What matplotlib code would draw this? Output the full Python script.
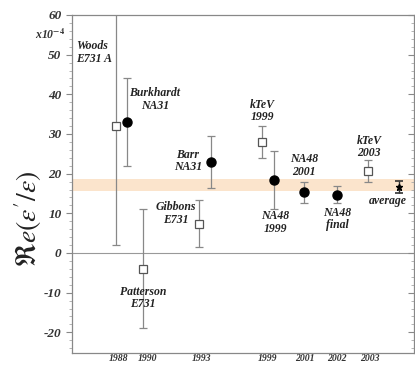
import matplotlib
matplotlib.use("Agg")
import matplotlib.pyplot as plt
from matplotlib.ticker import MultipleLocator

plt.rcParams['mathtext.fontset'] = 'stix'

# ---- data ----
labels = ["Woods\nE731 A", "Burkhardt\nNA31", "Patterson\nE731", "Gibbons\nE731",
          "Barr\nNA31", "kTeV\n1999", "NA48\n1999", "NA48\n2001", "NA48\nfinal",
          "kTeV\n2003", "average"]
xpos = [4.4, 5.5, 7.1, 12.7, 13.9, 19.0, 20.2, 23.2, 26.5, 29.6, 32.7]
values = [32.0, 33.0, -4.0, 7.4, 23.0, 28.0, 18.5, 15.3, 14.7, 20.7, 16.7]
errors = [30.0, 11.0, 15.0, 5.9, 6.5, 4.1, 7.3, 2.6, 2.2, 2.8, 1.5]
kinds = ["open", "filled", "open", "open", "filled", "open", "filled",
         "filled", "filled", "open", "avg"]
label_pos = [(0.4, 50.5), (8.3, 38.7), (7.1, -11.3), (10.4, 10.0), (11.6, 23.2),
             (19.0, 35.8), (20.3, 7.7), (23.2, 22.0), (26.5, 8.5), (29.7, 26.7), (31.6, 13.2)]
label_align = ["left", "center", "center", "center", "center", "center", "center",
               "center", "center", "center", "center"]
year_pos = [4.7, 7.6, 13.0, 19.6, 23.3, 26.5, 29.8]
year_labels = ["1988", "1990", "1993", "1999", "2001", "2002", "2003"]
band_low, band_high = 15.5, 18.7

font = dict(family="Liberation Serif", weight="bold", style="italic")

fig = plt.figure(figsize=(4.15, 3.65), dpi=100)
ax = fig.add_axes([0.1735, 0.033, 0.824, 0.926])
ax.set_xlim(0, 34.2)
ax.set_ylim(-25.2, 60)

ax.axhspan(band_low, band_high, color="#fbe4cc", zorder=0, lw=0)
ax.axhline(0, color="#999999", lw=0.8, zorder=1)

for x, v, e, k in zip(xpos, values, errors, kinds):
    if k == "open":
        ax.errorbar(x, v, yerr=e, fmt="s", ms=6, mfc="white", mec="#555555", mew=0.9,
                    ecolor="#888888", elinewidth=0.9, capsize=3, capthick=0.9, zorder=3)
    elif k == "filled":
        ax.errorbar(x, v, yerr=e, fmt="o", ms=6.5, mfc="black", mec="black",
                    ecolor="#888888", elinewidth=0.9, capsize=3, capthick=0.9, zorder=3)
    else:
        ax.errorbar(x, v, yerr=e, fmt="*", ms=5, mfc="black", mec="black",
                    ecolor="#333333", elinewidth=1.0, capsize=3, capthick=1.2, zorder=3)

for lab, (lx, ly), ha in zip(labels, label_pos, label_align):
    ax.text(lx, ly, lab, ha=ha, va="center", fontsize=8.5, color="#222222",
            linespacing=1.05, **font)

for s in ax.spines.values():
    s.set_color("#888888")
    s.set_linewidth(0.9)

ax.yaxis.set_major_locator(MultipleLocator(10))
ax.yaxis.set_minor_locator(MultipleLocator(2))
ax.tick_params(axis="y", which="major", direction="out", length=4, color="#888888",
               right=True, labelsize=9)
ax.tick_params(axis="y", which="minor", direction="out", length=2, color="#aaaaaa", right=True)
ax.set_yticks(range(-20, 61, 10))
ax.set_yticklabels([str(t) for t in range(-20, 61, 10)], **font, fontsize=9.5, color="#333333")
for t in ax.yaxis.get_ticklines(minor=False)[1::2]:
    t.set_marker(matplotlib.lines.TICKLEFT)
for t in ax.yaxis.get_ticklines(minor=True)[1::2]:
    t.set_marker(matplotlib.lines.TICKLEFT)

ax.set_xticks(year_pos)
ax.set_xticklabels(year_labels, **font, fontsize=7, color="#333333")
ax.tick_params(axis="x", length=0, pad=1)

fig.text(0.085, 0.905, r"x10$^{\mathbf{-4}}$", fontsize=8.5, ha="left", va="center",
         color="#333333", **font)
fig.text(0.068, 0.40, r"$\Re e(\varepsilon'/\varepsilon)$", fontsize=20, rotation=90,
         ha="center", va="center", color="#222222")

fig.savefig("out.png", dpi=100)
